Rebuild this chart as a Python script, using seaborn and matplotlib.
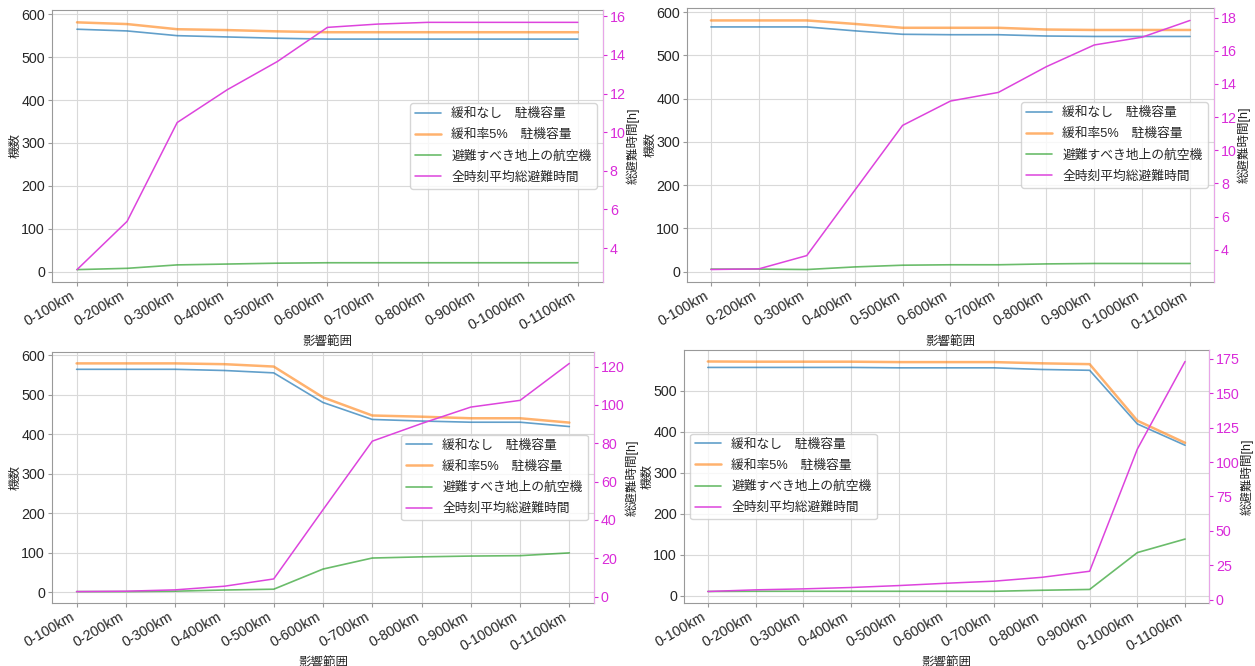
import pandas as pd
import matplotlib
matplotlib.use("Agg")
import matplotlib.pyplot as plt
import seaborn as sns

# カテゴリ (影響範囲)
ranges = ['0-100km', '0-200km', '0-300km', '0-400km', '0-500km', '0-600km',
          '0-700km', '0-800km', '0-900km', '0-1000km', '0-1100km']

labels = ['緩和なし　駐機容量', '緩和率5%　駐機容量', '避難すべき地上の航空機', '全時刻平均総避難時間']

# 左上
tl_blue = [565, 561, 550, 547, 544, 542, 542, 542, 542, 542, 542]
tl_orange = [581, 577, 565, 563, 560, 558, 558, 558, 558, 558, 558]
tl_green = [5, 8, 16, 18, 20, 21, 21, 21, 21, 21, 21]
tl_time = [2.88, 5.38, 10.5, 12.2, 13.66, 15.43, 15.6, 15.69, 15.69, 15.69, 15.69]

# 右上
tr_blue = [566, 566, 566, 557, 549, 548, 548, 545, 544, 544, 544]
tr_orange = [581, 581, 581, 573, 564, 564, 564, 560, 559, 559, 559]
tr_green = [6, 6, 5, 11, 15, 16, 16, 18, 19, 19, 19]
tr_time = [2.81, 2.85, 3.65, 7.58, 11.5, 12.97, 13.49, 15.04, 16.35, 16.82, 17.83]

# 左下
bl_blue = [565, 565, 565, 562, 556, 481, 438, 434, 431, 431, 420]
bl_orange = [580, 580, 580, 578, 572, 494, 448, 445, 441, 441, 430]
bl_green = [2, 2, 3, 6, 8, 59, 87, 90, 92, 93, 100]
bl_time = [2.6, 2.8, 3.5, 5.4, 9.2, 45.3, 81.1, 90.3, 98.9, 102.4, 121.7]

# 右下
br_blue = [557, 557, 557, 557, 556, 556, 556, 552, 550, 419, 367]
br_orange = [571.5, 571, 571, 571, 570, 570, 570, 567, 565, 427, 373]
br_green = [10, 10.5, 10.5, 10.5, 10.5, 10.5, 10.5, 13, 15, 105, 138]
br_time = [6, 7.2, 7.9, 8.9, 10.3, 12, 13.5, 16.3, 20.7, 109.4, 173]

panels = [
    ([0.0414, 0.5766, 0.4390, 0.4084], tl_blue, tl_orange, tl_green, tl_time, 'center right'),
    ([0.5474, 0.5766, 0.4199, 0.4114], tr_blue, tr_orange, tr_green, tr_time, 'center right'),
    ([0.0414, 0.0946, 0.4319, 0.3769], bl_blue, bl_orange, bl_green, bl_time, 'center right'),
    ([0.5450, 0.0946, 0.4183, 0.3799], br_blue, br_orange, br_green, br_time, 'center left'),
]

sns.set_style("whitegrid", {"axes.edgecolor": "0.6", "grid.color": "0.85",
                            "xtick.bottom": True, "ytick.left": True})
plt.rcParams['font.family'] = ['Liberation Sans', 'Noto Sans CJK JP', 'DejaVu Sans']
plt.rcParams['font.size'] = 10

pink = '#d92bd9'
pink_line = '#dd44dd'
pink_spine = '#e8a6e8'

fig = plt.figure(figsize=(12.55, 6.66), dpi=100)

for pos, blue, orange, green, time, loc in panels:
    ax = fig.add_axes(pos)
    df = pd.DataFrame({'range': ranges, 'blue': blue, 'orange': orange, 'green': green, 'time': time})
    sns.lineplot(data=df, x='range', y='blue', ax=ax, color='#1f77b4', alpha=0.7, lw=1.2,
                 label=labels[0], legend=False)
    sns.lineplot(data=df, x='range', y='orange', ax=ax, color='#ff7f0e', alpha=0.6, lw=1.8,
                 label=labels[1], legend=False)
    sns.lineplot(data=df, x='range', y='green', ax=ax, color='#2ca02c', alpha=0.7, lw=1.2,
                 label=labels[2], legend=False)
    ax.set_xlabel('影響範囲', fontsize=9, labelpad=2)
    ax.set_ylabel('機数', fontsize=9, labelpad=0)
    ax.tick_params(axis='both', labelsize=10.3, length=3, color='0.6', pad=2)
    plt.setp(ax.get_xticklabels(), rotation=30, ha='right')

    ax2 = ax.twinx()
    sns.lineplot(data=df, x='range', y='time', ax=ax2, color=pink_line, lw=1.1,
                 label=labels[3], legend=False)
    ax2.grid(False)
    ax2.set_ylabel('総避難時間[h]', fontsize=9, labelpad=0)
    ax2.tick_params(axis='y', colors=pink, labelsize=10.3, length=3, right=True, pad=2)
    ax2.spines['right'].set_color(pink_spine)
    for s in ['left', 'top', 'bottom']:
        ax2.spines[s].set_visible(False)

    h1, l1 = ax.get_legend_handles_labels()
    h2, l2 = ax2.get_legend_handles_labels()
    ax2.legend(h1 + h2, l1 + l2, loc=loc, fontsize=9.2, labelspacing=0.7)

fig.savefig('out.png', dpi=100)
